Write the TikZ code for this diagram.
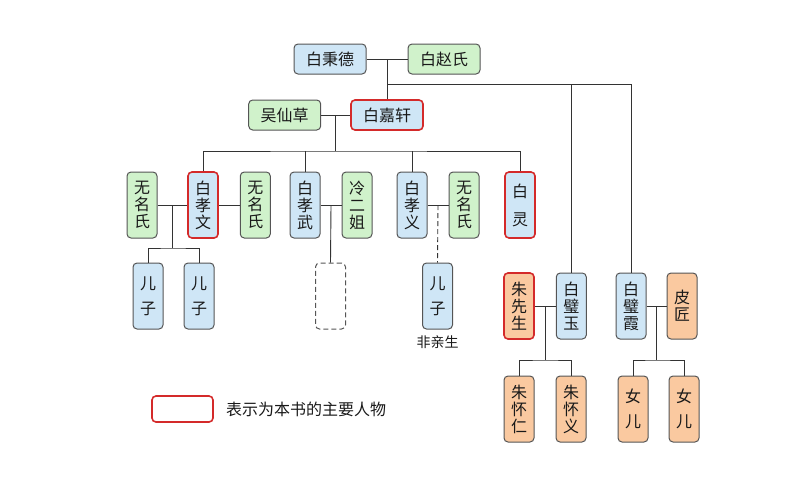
\documentclass[tikz,border=0pt]{standalone}
\usepackage{fontspec}
\setmainfont{Noto Sans CJK SC}
\usetikzlibrary{positioning, calc}
\definecolor{boxblue}{HTML}{CFE6F6}
\definecolor{boxgreen}{HTML}{D0F2CB}
\definecolor{boxorange}{HTML}{FAC9A0}
\definecolor{edgegray}{HTML}{555555}
\definecolor{mainred}{HTML}{D42A2A}

\begin{document}
\begin{tikzpicture}[
  x=1pt, y=-1pt,
  node distance=21pt,
  every node/.style={font=\fontsize{16}{17}\selectfont, text=black!90, align=center, inner sep=0pt},
  hbox/.style={draw=edgegray, line width=1pt, rounded corners=4pt, minimum width=72pt, minimum height=30pt},
  vbox/.style={draw=edgegray, line width=1pt, rounded corners=4pt, minimum width=30pt, minimum height=66pt},
  bai/.style={fill=boxblue},
  wai/.style={fill=boxgreen},
  zhu/.style={fill=boxorange},
  lead/.style={draw=mainred, line width=1.6pt},
  link/.style={line width=0.9pt, black!80},
  dash5/.style={dash pattern=on 5pt off 3pt}
]
\useasboundingbox (0,0) rectangle (794,477);

% Generation 1
\node[hbox, bai] (bingde) at (330,59) {白秉德};
\node[hbox, wai, right=41pt of bingde] (zhaoshi) {白赵氏};
\node[hbox, bai, lead] (jiaxuan) at (387,115) {白嘉轩};
\node[hbox, wai, left=29pt of jiaxuan] (xiancao) {吴仙草};

% Generation 2
\node[vbox, wai] (wuming1) at (142,205) {无\\名\\氏};
\node[vbox, bai, lead] (xiaowen) at (203,205) {白\\孝\\文};
\node[vbox, wai, right=of xiaowen] (wuming2) {无\\名\\氏};
\node[vbox, bai] (xiaowu) at (305,205) {白\\孝\\武};
\node[vbox, wai, right=of xiaowu] (lengerjie) {冷\\二\\姐};
\node[vbox, bai] (xiaoyi) at (412,205) {白\\孝\\义};
\node[vbox, wai, right=of xiaoyi] (wuming3) {无\\名\\氏};
\node[vbox, bai, lead] (bailing) at (520,205) {白\\[11pt]灵};

% Generation 3
\node[vbox, bai] (erzi1) at (148,296) {儿\\[8pt]子};
\node[vbox, bai] (erzi2) at (199,296) {儿\\[8pt]子};
\node[vbox, dash5] (weizhi) at (330.5,296) {};
\node[vbox, bai] (erzi3) at (437.5,296) {儿\\[8pt]子};
\node[below=6pt of erzi3, font=\fontsize{14}{16}\selectfont] (feiqin) {非亲生};

% Daughters of Bai Bingde
\node[vbox, zhu, lead] (zhuxs) at (519,306) {朱\\先\\生};
\node[vbox, bai, right=of zhuxs] (biyu) {白\\璧\\玉};
\node[vbox, bai] (bixia) at (631,306) {白\\璧\\霞};
\node[vbox, zhu, right=20pt of bixia] (pijiang) {皮\\匠};
\node[vbox, zhu] (huairen) at (519,409) {朱\\怀\\仁};
\node[vbox, zhu, right=of huairen] (huaiyi) {朱\\怀\\义};
\node[vbox, zhu] (nver1) at (633,409) {女\\[8pt]儿};
\node[vbox, zhu, right=20pt of nver1] (nver2) {女\\[8pt]儿};

% Legend
\node[draw=mainred, line width=1.6pt, rounded corners=4pt, minimum width=61pt, minimum height=26pt] (key) at (182.5,409) {};
\node[right=12pt of key] (keytext) {表示为本书的主要人物};

% Connectors
\draw[link] (bingde) -- (zhaoshi);
\coordinate (top) at ($(bingde.east)!0.5!(zhaoshi.west)$);
\draw[link] (top) -- (top |- jiaxuan.north);
\coordinate (branch) at ($(top)+(0,25)$);
\draw[link] (branch) -| (bixia.north);
\draw[link] (branch -| biyu.north) -- (biyu.north);

\draw[link] (xiancao) -- (jiaxuan);
\coordinate (mid2) at ($(xiancao.east)!0.5!(jiaxuan.west)$);
\coordinate (bus2) at ($(mid2)+(0,36)$);
\draw[link] (mid2) -- (bus2);
\draw[link] (xiaowen.north) |- (bus2) -| (bailing.north);
\draw[link] (xiaowu.north) -- (xiaowu.north |- bus2);
\draw[link] (xiaoyi.north) -- (xiaoyi.north |- bus2);

\draw[link] (wuming1) -- (xiaowen) -- (wuming2);
\coordinate (mid3) at ($(wuming1.east)!0.5!(xiaowen.west)$);
\draw[link] (mid3) -- ++(0,43) coordinate (bus3);
\draw[link] (erzi1.north) |- (bus3) -| (erzi2.north);

\draw[link] (xiaowu) -- (lengerjie);
\draw[link] ($(xiaowu.east)!0.5!(lengerjie.west)$) -- (weizhi.north);

\draw[link] (xiaoyi) -- (wuming3);
\draw[link, dash5] ($(xiaoyi.east)!0.5!(wuming3.west)$) -- (erzi3.north);

\draw[link] (zhuxs) -- (biyu);
\coordinate (mid5) at ($(zhuxs.east)!0.5!(biyu.west)$);
\draw[link] (mid5) -- ++(0,54) coordinate (bus5);
\draw[link] (huairen.north) |- (bus5) -| (huaiyi.north);

\draw[link] (bixia) -- (pijiang);
\coordinate (mid6) at ($(bixia.east)!0.5!(pijiang.west)$);
\draw[link] (mid6) -- ++(0,54) coordinate (bus6);
\draw[link] (nver1.north) |- (bus6) -| (nver2.north);

\end{tikzpicture}
\end{document}
